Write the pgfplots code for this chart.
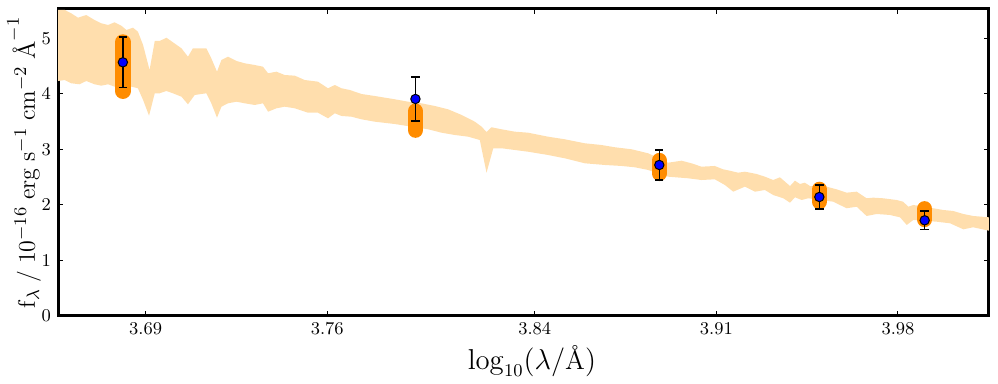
\documentclass[border=0pt]{standalone}
\usepackage{pgfplots}
\pgfplotsset{compat=1.18}
\usepgfplotslibrary{fillbetween}
\definecolor{bandcol}{HTML}{FFDEAD}
\definecolor{barcol}{HTML}{FF8C00}
\begin{document}
\begin{tikzpicture}
\begin{axis}[
    at={(0,0)}, anchor=south west,
    scale only axis,
    width=465.5pt, height=153.65pt,
    xmin=3.6562, xmax=4.0151,
    ymin=0, ymax=5.537,
    xtick={3.69,3.76,3.84,3.91,3.98},
    ytick={0,1,2,3,4,5},
    xticklabel style={/pgf/number format/.cd,fixed,precision=2,fixed zerofill},
    tick align=inside,
    major tick length=2.5pt,
    tick style={black,line width=0.5pt},
    axis line style={line width=1.5pt},
    tick label style={font=\fontsize{9}{10}\selectfont},
    xlabel={$\log_{10}(\lambda/\mbox{\AA})$},
    ylabel={$\mathrm{f}_\lambda\;/\;10^{-16}\;\mathrm{erg}\;\mathrm{s}^{-1}\;\mathrm{cm}^{-2}\;\mbox{\AA}^{-1}$},
    xlabel style={font=\fontsize{13.5}{16}\selectfont,
                  at={(axis description cs:0.509,0)},anchor=center,yshift=-22.5pt},
    ylabel style={font=\fontsize{12.5}{15}\selectfont,
                  at={(axis description cs:-0.0365,0.5)},anchor=center},
    clip=true,
  ]
  % model band, upper edge
  \addplot[name path=up, draw=none, forget plot] coordinates {
    (3.6562,5.514)(3.6588,5.514)(3.6613,5.454)(3.6639,5.375)(3.6671,5.423)
    (3.6703,5.333)(3.6729,5.274)(3.6755,5.243)(3.6780,5.292)(3.6806,5.231)
    (3.6826,5.153)(3.6851,5.195)(3.6870,5.123)(3.6890,4.883)(3.6915,4.432)
    (3.6935,4.955)(3.6954,4.955)(3.6980,5.014)(3.7005,4.932)(3.7038,4.823)
    (3.7063,4.672)(3.7082,4.823)(3.7134,4.823)(3.7153,4.643)(3.7175,4.402)
    (3.7192,4.613)(3.7217,4.672)(3.7250,4.595)(3.7282,4.553)(3.7320,4.523)
    (3.7352,4.492)(3.7372,4.373)(3.7404,4.402)(3.7436,4.342)(3.7475,4.330)
    (3.7513,4.252)(3.7564,4.222)(3.7603,4.103)(3.7629,4.162)(3.7655,4.103)
    (3.7687,4.072)(3.7732,4.000)(3.7783,3.964)(3.7860,3.905)(3.7912,3.861)
    (3.7963,3.832)(3.8015,3.784)(3.8066,3.724)(3.8118,3.622)(3.8169,3.501)
    (3.8195,3.411)(3.8214,3.315)(3.8233,3.400)(3.8272,3.364)(3.8323,3.321)
    (3.8374,3.303)(3.8451,3.231)(3.8516,3.184)(3.8593,3.112)(3.8657,3.081)
    (3.8709,3.040)(3.8773,3.004)(3.8837,2.932)(3.8914,2.762)(3.8966,2.798)
    (3.9004,2.751)(3.9043,2.690)(3.9094,2.703)(3.9126,2.643)(3.9152,2.618)
    (3.9184,2.582)(3.9210,2.600)(3.9255,2.559)(3.9287,2.510)(3.9319,2.450)
    (3.9345,2.499)(3.9384,2.342)(3.9403,2.438)(3.9422,2.378)(3.9441,2.402)
    (3.9461,2.342)(3.9525,2.330)(3.9563,2.283)(3.9602,2.222)(3.9641,2.240)
    (3.9679,2.121)(3.9705,2.132)(3.9743,2.121)(3.9795,2.090)(3.9820,2.059)
    (3.9840,1.969)(3.9859,2.000)(3.9885,1.982)(3.9936,1.941)(3.9975,1.910)
    (4.0013,1.892)(4.0052,1.838)(4.0090,1.802)(4.0151,1.778)
  };
  % model band, lower edge
  \addplot[name path=lo, draw=none, forget plot] coordinates {
    (3.6562,4.234)(3.6588,4.252)(3.6613,4.193)(3.6645,4.175)(3.6671,4.234)
    (3.6703,4.175)(3.6729,4.150)(3.6755,4.175)(3.6780,4.132)(3.6845,4.132)
    (3.6870,4.103)(3.6890,3.892)(3.6913,3.609)(3.6935,4.013)(3.6954,4.013)
    (3.6980,4.054)(3.7005,4.013)(3.7038,3.951)(3.7063,3.814)(3.7089,3.982)
    (3.7134,4.013)(3.7153,3.832)(3.7175,3.573)(3.7192,3.771)(3.7217,3.832)
    (3.7250,3.861)(3.7282,3.832)(3.7320,3.802)(3.7352,3.832)(3.7372,3.681)
    (3.7404,3.742)(3.7436,3.771)(3.7475,3.742)(3.7526,3.663)(3.7564,3.663)
    (3.7603,3.562)(3.7629,3.652)(3.7655,3.604)(3.7693,3.591)(3.7732,3.544)
    (3.7783,3.501)(3.7860,3.459)(3.7989,3.364)(3.8040,3.303)(3.8092,3.261)
    (3.8143,3.231)(3.8188,3.171)(3.8214,2.582)(3.8240,3.022)(3.8272,3.022)
    (3.8323,2.991)(3.8374,2.960)(3.8451,2.901)(3.8516,2.841)(3.8593,2.751)
    (3.8670,2.721)(3.8735,2.703)(3.8786,2.679)(3.8837,2.631)(3.8914,2.510)
    (3.8991,2.481)(3.9043,2.450)(3.9094,2.463)(3.9133,2.360)(3.9165,2.240)
    (3.9210,2.330)(3.9249,2.240)(3.9287,2.270)(3.9319,2.180)(3.9358,2.121)
    (3.9384,2.041)(3.9403,2.139)(3.9429,2.090)(3.9454,2.121)(3.9551,2.059)
    (3.9602,1.941)(3.9641,1.969)(3.9679,1.802)(3.9718,1.838)(3.9769,1.820)
    (3.9808,1.778)(3.9834,1.640)(3.9859,1.730)(3.9949,1.699)(4.0001,1.670)
    (4.0052,1.562)(4.0090,1.598)(4.0151,1.537)
  };
  \addplot[bandcol, draw=none] fill between[of=up and lo];

  % model photometry ranges
  \addplot[barcol, line width=7.75pt, line cap=round, unbounded coords=jump] coordinates {
    (3.6812,4.936)(3.6812,4.050)(3.6812,nan)
    (3.7940,3.690)(3.7940,3.350)(3.7940,nan)
    (3.8880,2.800)(3.8880,2.570)(3.8880,nan)
    (3.9497,2.280)(3.9497,2.060)(3.9497,nan)
    (3.9903,1.930)(3.9903,1.740)
  };

  % observed photometry
  \addplot[only marks, mark=*, mark size=2.35pt,
    mark options={fill=blue, draw=black, line width=0.5pt},
    error bars/.cd, y dir=both, y explicit,
    error bar style={black, line width=0.75pt},
    error mark options={rotate=90, mark size=2.1pt, black, line width=0.75pt}]
    coordinates {
    (3.6812,4.571) +- (0,0.457)
    (3.7940,3.910) +- (0,0.400)
    (3.8880,2.721) +- (0,0.270)
    (3.9497,2.144) +- (0,0.217)
    (3.9903,1.724) +- (0,0.168)
  };
\end{axis}
\pgfresetboundingbox
\path[use as bounding box] (-29pt,-34pt) rectangle (470pt,158pt);
\end{tikzpicture}
\end{document}
